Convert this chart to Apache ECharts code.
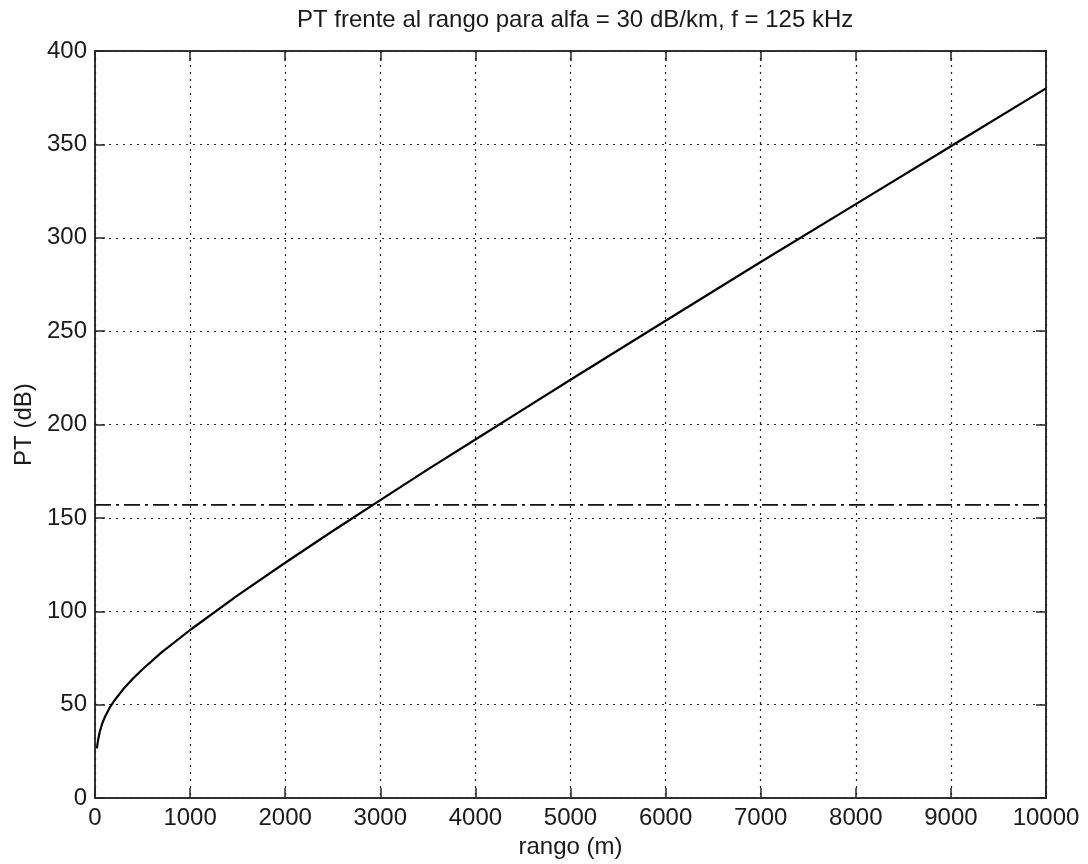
<!DOCTYPE html>
<html>
<head>
<meta charset="utf-8">
<title>PT frente al rango</title>
<script src="https://cdn.jsdelivr.net/npm/echarts@6/dist/echarts.min.js"></script>
<style>
  html, body { margin: 0; padding: 0; background: #fff; }
  #main { width: 1088px; height: 864px; }
</style>
</head>
<body>
<div id="main"></div>
<script>
// rango (m) y PT (dB)
const rango = [20, 30, 50, 75, 100, 150, 200, 300, 400, 500, 700, 1000, 1500, 2000, 2500, 3000,
  3500, 4000, 4500, 5000, 6000, 7000, 8000, 9000, 10000]
const pt = [26.6, 30.4, 35.5, 39.8, 43, 48, 52, 58.5, 64, 69, 78, 90, 108.5, 126, 143, 159.5,
  176, 192, 208, 224, 255.6, 287, 318, 349, 380]
// umbral horizontal (linea de trazo y punto)
const umbralX = [0, 10000]
const umbralY = [157, 157]

const font = 'Liberation Sans, Arial, Helvetica, sans-serif'
const txt = '#1a1a1a'

var chartDom = document.getElementById('main')
var myChart = echarts.init(chartDom)

const curva = rango.map((r, i) => [r, pt[i]])
const umbral = umbralX.map((x, i) => [x, umbralY[i]])

// cada eje necesita su propio objeto
const boxLine = () => ({ show: true, onZero: false, lineStyle: { color: '#262626', width: 1.5 } })
const tickIn = () => ({ show: true, inside: true, length: 10, lineStyle: { color: '#262626', width: 1.5 } })
const grid = () => ({ show: true, lineStyle: { color: '#222', width: 1.2, type: [2, 5] } })

var option = {
  animation: false,
  backgroundColor: '#fff',
  title: {
    text: 'PT frente al rango para alfa = 30 dB/km, f = 125 kHz',
    left: 297,
    top: 8,
    padding: 0,
    textStyle: { fontFamily: font, fontSize: 24, fontWeight: 'normal', color: txt }
  },
  grid: {
    left: 95, right: 42, top: 51, bottom: 64,
    show: true, borderColor: '#262626', borderWidth: 1.5
  },
  xAxis: [
    {
      type: 'value',
      min: 0,
      max: 10000,
      interval: 1000,
      name: 'rango (m)',
      nameLocation: 'middle',
      nameGap: 36,
      nameTextStyle: { fontFamily: font, fontSize: 24, color: txt },
      axisLine: boxLine(),
      axisTick: tickIn(),
      axisLabel: { fontFamily: font, fontSize: 24, color: txt, margin: 8, formatter: v => String(v) },
      splitLine: grid()
    },
    {
      type: 'value',
      position: 'top',
      min: 0,
      max: 10000,
      interval: 1000,
      axisLine: boxLine(),
      axisTick: tickIn(),
      axisLabel: { show: false },
      splitLine: { show: false }
    }
  ],
  yAxis: [
    {
      type: 'value',
      min: 0,
      max: 400,
      interval: 50,
      name: 'PT (dB)',
      nameLocation: 'middle',
      nameGap: 56,
      nameRotate: 90,
      nameTextStyle: { fontFamily: font, fontSize: 24, color: txt },
      axisLine: boxLine(),
      axisTick: tickIn(),
      axisLabel: { fontFamily: font, fontSize: 24, color: txt, margin: 8 },
      splitLine: grid()
    },
    {
      type: 'value',
      position: 'right',
      min: 0,
      max: 400,
      interval: 50,
      axisLine: boxLine(),
      axisTick: tickIn(),
      axisLabel: { show: false },
      splitLine: { show: false }
    }
  ],
  series: [
    {
      name: 'umbral',
      type: 'line',
      data: umbral,
      showSymbol: false,
      lineStyle: { color: '#111', width: 1.6, type: [16, 5, 3, 5] }
    },
    {
      name: 'PT',
      type: 'line',
      data: curva,
      showSymbol: false,
      smooth: false,
      lineStyle: { color: '#000', width: 2.2 }
    },
    {
      // serie vacia para que los ejes de arriba y derecha se dibujen
      name: 'marco',
      type: 'line',
      xAxisIndex: 1,
      yAxisIndex: 1,
      data: [],
      showSymbol: false
    }
  ]
}

option && myChart.setOption(option)
</script>
</body>
</html>
